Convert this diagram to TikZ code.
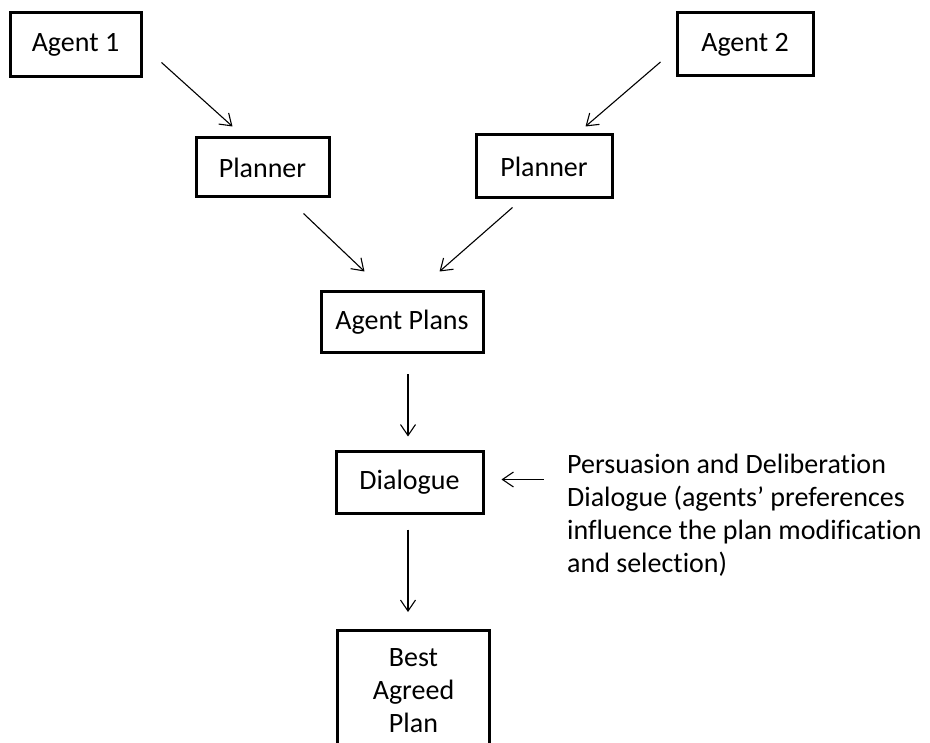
\documentclass[tikz,border=0pt]{standalone}
\usepackage{fontspec}
\setmainfont{Carlito}[Ligatures={NoCommon}]
\usetikzlibrary{arrows.meta,calc}
\begin{document}
\begin{tikzpicture}[x=1pt,y=-1pt,
  boxline/.style={draw=black,line width=3pt},
  box/.style={boxline,rectangle,inner sep=0pt,
    font=\fontsize{28}{33}\selectfont,align=center},
  link/.style={line width=1.1pt,-{Straight Barb[length=11pt,width=15pt,line width=1.1pt]}},
  note/.style={font=\fontsize{28}{33}\selectfont,align=left,anchor=north west,inner sep=0pt}]
  \useasboundingbox (0,0) rectangle (930,743);
  \clip (0,0) rectangle (930,743);

  % boxes
  \node[box,minimum width=131pt,minimum height=64pt] (a1) at (75.5,45) {Agent 1};
  \node[box,minimum width=136pt,minimum height=63pt] (a2) at (745,44.5) {Agent 2};
  \node[box,minimum width=133pt,minimum height=59pt] (p1) at (262.5,167.5) {Planner};
  \node[box,minimum width=136pt,minimum height=63pt] (p2) at (544,166.5) {Planner};
  \node[box,minimum width=162pt,minimum height=61pt] (plans) at (402,322.5) {Agent Plans};
  \node[box,minimum width=147pt,minimum height=61pt] (dlg) at (409.5,482.5) {Dialogue};

  % last box: text first, frame running on below the lower edge
  \node[font=\fontsize{28}{33}\selectfont,align=center,inner sep=0pt,
    minimum width=152pt,anchor=north] (best) at (413.5,648) {Best\\Agreed\\Plan};
  \draw[boxline] ($(best.north west)+(0,-18)$) rectangle ($(best.south east)+(0,40)$);

  \node[note] (txt) at (567,454) {Persuasion and Deliberation\\
    Dialogue (agents’ preferences\\influence the plan modification\\and selection)};

  % connector end points
  \coordinate (a1s) at ($(a1.south east)+(19,-16)$);
  \coordinate (p1t) at ($(p1.north west)+(38,-10)$);
  \coordinate (a2s) at ($(a2.south west)+(-15,-15.5)$);
  \coordinate (p2t) at ($(p2.north west)+(111,-7)$);
  \coordinate (p1s) at ($(p1.south east)+(-27,15)$);
  \coordinate (p2s) at ($(p2.south west)+(38,8)$);
  \coordinate (pl1) at ($(plans.north west)+(45,-19)$);
  \coordinate (pl2) at ($(plans.north west)+(120,-19)$);
  \coordinate (pls) at ($(plans.south)+(6,20)$);
  \coordinate (dlt) at ($(dlg.north)+(-1.5,-14)$);
  \coordinate (dls) at ($(dlg.south)+(-1.5,15)$);
  \coordinate (bst) at ($(best.north)+(-5.5,-36)$);
  \coordinate (nte) at ($(dlg.east)+(59,-3)$);
  \coordinate (dle) at ($(dlg.east)+(17,-3)$);

  % connectors
  \draw[link] (a1s) -- (p1t);
  \draw[link] (a2s) -- (p2t);
  \draw[link] (p1s) -- (pl1);
  \draw[link] (p2s) -- (pl2);
  \draw[link] (pls) -- (dlt);
  \draw[link] (dls) -- (bst);
  \draw[link] (nte) -- (dle);
\end{tikzpicture}
\end{document}
